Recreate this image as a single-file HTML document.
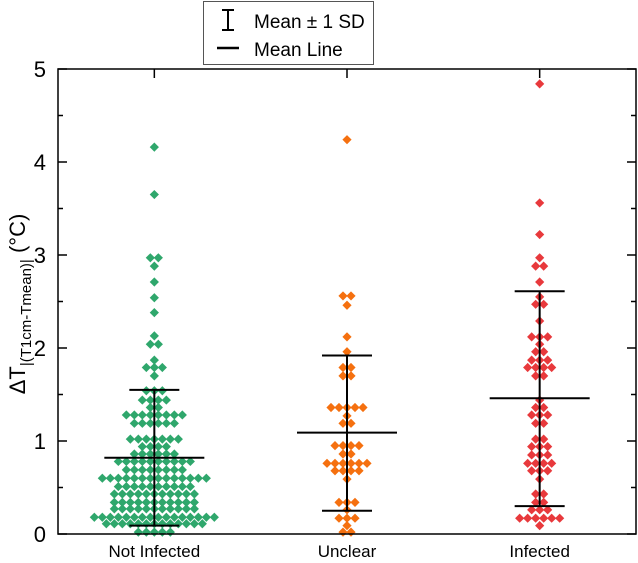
<!DOCTYPE html>
<html><head><meta charset="utf-8"><style>
html,body{margin:0;padding:0;background:#fff;}
svg{display:block;font-family:"Liberation Sans",Arial,sans-serif;}
</style></head><body>
<svg id="chart" width="638" height="563" viewBox="0 0 638 563"></svg>
<script>
const categories = ["Not Infected","Unclear","Infected"];
const colors = ["#2fa76c","#f5700f","#e8393c"];
const niRowValues = [4.16,3.65,2.97,2.88,2.71,2.54,2.38,2.13,2.04,1.87,1.79,1.70,1.54,1.44,1.36,1.28,1.19,1.02,0.94,0.86,0.78,0.69,0.60,0.51,0.43,0.34,0.27,0.18,0.11,0.02];
const niRowCounts = [1,1,2,1,1,1,1,1,2,1,3,1,3,4,2,8,6,7,4,6,10,8,14,10,11,11,11,16,13,5];
const unRowValues = [4.24,2.56,2.46,2.12,1.96,1.79,1.70,1.36,1.27,1.19,0.95,0.86,0.76,0.68,0.59,0.34,0.26,0.17,0.09,0.02];
const unRowCounts = [1,2,1,1,1,2,2,5,1,2,4,2,6,4,1,3,1,3,1,2];
const inRowValues = [4.84,3.56,3.22,2.97,2.88,2.71,2.55,2.47,2.29,2.12,2.04,1.96,1.87,1.79,1.70,1.44,1.36,1.28,1.19,1.02,0.94,0.85,0.76,0.68,0.59,0.43,0.34,0.26,0.17,0.09];
const inRowCounts = [1,1,1,1,2,1,1,2,1,3,1,2,3,4,2,1,2,3,2,2,3,3,4,3,1,2,2,3,6,1];
const means = [0.82,1.09,1.46];
const sdUpper = [1.55,1.92,2.61];
const sdLower = [0.09,0.25,0.30];
const yTicks = [0,1,2,3,4,5];

const svg = document.getElementById('chart');
const NS = 'http://www.w3.org/2000/svg';
const L=58,R=636,T=69,B=534;
const yS = v => B - (v/5)*(B-T);
const xS = i => L + (R-L)*(2*i+1)/6;
function mk(tag, attrs, parent){const e=document.createElementNS(NS,tag);for(const k in attrs)e.setAttribute(k,attrs[k]);(parent||svg).appendChild(e);return e;}

yTicks.forEach(t=>{
  const y=yS(t);
  const a=mk('line',{x1:L,x2:L+9,y1:y,y2:y,stroke:'#000','stroke-width':1.5});
  
  
  const b=mk('line',{x1:R-9,x2:R,y1:y,y2:y,stroke:'#000','stroke-width':1.5});
  
  
  const lb=mk('text',{x:L-12,y:y+8,'text-anchor':'end','font-size':22,fill:'#000'});
  lb.textContent=t;
  
  
  if(t<5){
    const ym=yS(t+0.5);
    const c=mk('line',{x1:L,x2:L+5,y1:ym,y2:ym,stroke:'#000','stroke-width':1.5});
    
    
    const d=mk('line',{x1:R-5,x2:R,y1:ym,y2:ym,stroke:'#000','stroke-width':1.5});
    
    
  }
});

const groups=[[niRowValues,niRowCounts],[unRowValues,unRowCounts],[inRowValues,inRowCounts]];
groups.forEach((g,i)=>{
  const cx=xS(i);
  const tk=mk('line',{x1:cx,x2:cx,y1:T,y2:T+9,stroke:'#000','stroke-width':1.5});
  
  
  const lbl=mk('text',{x:cx,y:557,'text-anchor':'middle','font-size':17,fill:'#000'});
  lbl.textContent=categories[i];
  
  
  const [vals,cnts]=g;
  vals.forEach((v,r)=>{
    const n=cnts[r];
    for(let k=0;k<n;k++){
      const px=cx+(k-(n-1)/2)*8, py=yS(v);
      const p=mk('path',{d:`M${px} ${py-4.6}L${px+4.6} ${py}L${px} ${py+4.6}L${px-4.6} ${py}Z`,fill:colors[i]});
      
      
    }
  });
  const eb=mk('line',{x1:cx,x2:cx,y1:yS(sdLower[i]),y2:yS(sdUpper[i]),stroke:'#000','stroke-width':2});
  
  
  [sdLower[i],sdUpper[i]].forEach(s=>{
    const c=mk('line',{x1:cx-25,x2:cx+25,y1:yS(s),y2:yS(s),stroke:'#000','stroke-width':2});
    
    
  });
  const m=mk('line',{x1:cx-50,x2:cx+50,y1:yS(means[i]),y2:yS(means[i]),stroke:'#000','stroke-width':2});
  
  
});

const frame=mk('rect',{x:L,y:T,width:R-L,height:B-T,fill:'none',stroke:'#000','stroke-width':1.5});


</script>
<svg style="position:absolute;left:0;top:0" width="638" height="563">
  <g>
    <rect x="203.5" y="1.5" width="170" height="63" fill="#fff" stroke="#555" stroke-width="1"/>
    <g>
      <line x1="228" x2="228" y1="10" y2="30" stroke="#000" stroke-width="2"/>
      <line x1="222" x2="234" y1="10" y2="10" stroke="#000" stroke-width="2"/>
      <line x1="222" x2="234" y1="30" y2="30" stroke="#000" stroke-width="2"/>
      <text x="254" y="28" font-size="19" font-family="Liberation Sans, sans-serif">Mean ± 1 SD</text>
    </g>
    <g>
      <line x1="217" x2="239" y1="48" y2="48" stroke="#000" stroke-width="2.5"/>
      <text x="254" y="56" font-size="19" font-family="Liberation Sans, sans-serif">Mean Line</text>
    </g>
  </g>
  <text transform="translate(25,304) rotate(-90)" text-anchor="middle" font-size="22" font-family="Liberation Sans, sans-serif">ΔT<tspan font-size="15" dy="6">|(T1cm-Tmean)|</tspan><tspan dy="-6"> (°C)</tspan></text>
</svg>
</body></html>
